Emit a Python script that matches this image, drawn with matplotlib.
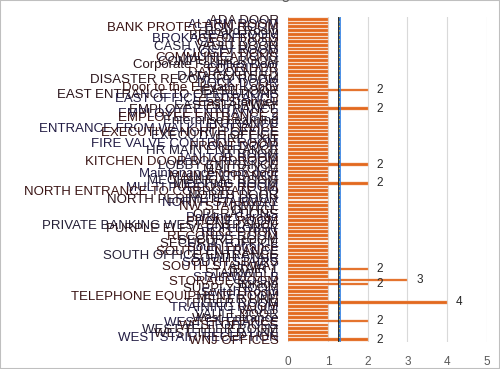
import numpy as np
import matplotlib
matplotlib.use("Agg")
import matplotlib.pyplot as plt
from matplotlib.patches import Rectangle

plt.rcParams['font.family'] = ['Liberation Sans', 'DejaVu Sans']

doors = [
    "ADA DOOR", "ALARM ROOM", "BANK PROTECTION ROOM", "Board Room", "BREAK ROOM",
    "BROKAGE OFFICES", "CASH ROOM", "CASH VAULT DOOR", "CCTV ROOM", "CLOSET DOOR",
    "COMMUNICATIONS", "COMPUTER ROOM", "Corporate Facilities Door", "CORRIDOR",
    "DATA CENTER", "DATA CENTER 2", "DISASTER RECOVERY ROOM", "DOCK DOOR",
    "Door to the Elevator Lobby", "EAST DOOR", "EAST ENTRANCE TO OPERATIONS",
    "EAST OFFICE ENTRANCE", "East Stairwell", "EAST STAIRWAY", "EMPLOYEE ENTRANCE",
    "EMPLOYEE ENTRANCE 2", "EMPLOYEE ENTRANCE 3", "Enterprise Learning", "ENTRANCE",
    "ENTRANCE FROM WALK UP SERVICE", "EXECUTIVE NORTH OFFICE", "EXECUTIVE OFFICE",
    "FIRE EXIT", "FIRE VALVE CONTROL ROOM", "FRONT DOOR", "HR MAIN ENTRANCE",
    "IT ROOM", "JANITOR ROOM", "KITCHEN DOOR BOARDROOM", "LOBBY ENTRANCE",
    "MAIL ROOM", "Maintenance room door", "MAIN ENTRANCE", "MECHANICAL ROOM",
    "MEETING ROOM", "MULTI PURPOSE ROOM", "NORTH ENTRANCE TO CORPORATE HQ",
    "NORTH DOOR", "NORTH PERIMETER DOOR", "NORTH STAIRWAY", "NW STAIRWELL",
    "OFFICE", "OPERATIONS", "Parking Garage", "PHONE ROOM",
    "PRIVATE BANKING WEST ENTRANCE", "PURPLE ELEVATOR LOBBY", "RECEPTION",
    "RECORDS ROOM", "SECURE ROOM", "SECURITY OFFICE", "South Entrance",
    "SOUTH ENTRANCE", "SOUTH OFFICE ENTRANCE", "SOUTH STAIR", "SOUTH STAIRS",
    "SOUTH STAIRWAY", "STAIR 1", "STAIRWELL", "STAIRWELL B", "STORAGE ROOM",
    "Storage", "SUPPLY ROOM", "Switch Room", "TELEPHONE EQUIPMENT ROOM",
    "TELLER LINE", "TELLER ROOM", "TRAINING ROOM", "VAULT", "VAULT DOOR",
    "West Entrance", "WEST ENTRANCE", "WEST OFFICES", "WEST TELLER ROOM",
    "WEST TELLER LINE", "WEST STAIR RECEPTION", "WNJ OFFICES",
]

counts = [
    1, 1, 1, 1, 1, 1, 1, 1, 1, 1,
    1, 1, 1, 1, 1, 1, 1, 1, 1, 2,
    1, 1, 1, 1, 2, 1, 1, 1, 1, 1,
    1, 1, 1, 1, 1, 1, 1, 1, 1, 2,
    1, 1, 1, 1, 2, 1, 1, 1, 1, 1,
    1, 1, 1, 1, 1, 1, 1, 1, 1, 1,
    1, 1, 1, 1, 1, 1, 1, 2, 1, 1,
    3, 2, 1, 1, 1, 1, 4, 1, 1, 1,
    1, 2, 1, 1, 1, 1, 2,
]

ref_black = 1.27
ref_blue = 1.31

fig = plt.figure(figsize=(5, 3.69), dpi=100)
ax = fig.add_axes([0.5766, 0.0742, 0.3968, 0.8786])

y = np.arange(len(doors))
ax.barh(y, counts, height=0.72, color='#E2691F', edgecolor='#F0A070', linewidth=0.3, zorder=3)

for yi, c in zip(y, counts):
    if c > 1:
        ax.text(c + 0.22, yi, str(c), va='center', ha='left', fontsize=8.5, color='#262626')

ax.axvline(ref_black, color='#1a1a1a', linewidth=1.3, zorder=4)
ax.axvline(ref_black, color='#d9c24a', linewidth=0.8, linestyle=(0, (1, 3)), zorder=5)
ax.axvline(ref_blue, color='#2a7be4', linewidth=1.2, zorder=4)

ax.set_xlim(0, 5)
ax.set_ylim(len(doors) - 0.5, -0.5)
ax.set_xticks(range(6))
ax.set_yticks(y)
ax.set_yticklabels(doors)
label_colors = ['#2a141a', '#221c44', '#3a1414', '#241f36']
for i, lab in enumerate(ax.get_yticklabels()):
    lab.set_color(label_colors[i % len(label_colors)])
ax.tick_params(axis='y', length=0, pad=7, labelsize=9.5)
ax.tick_params(axis='x', length=0, pad=10, labelsize=8.5, labelcolor='#595959')
ax.grid(axis='x', color='#d9d9d9', linewidth=0.8, zorder=0)
for s in ax.spines.values():
    s.set_visible(False)

fig.text(0.5, 1.004, 'Door Listing', ha='center', va='baseline', fontsize=11, color='#595959')
fig.patches.append(Rectangle((0, 0), 1, 1, transform=fig.transFigure, fill=False,
                             edgecolor='#bfbfbf', linewidth=1.5))

fig.savefig('out.png', dpi=100)
